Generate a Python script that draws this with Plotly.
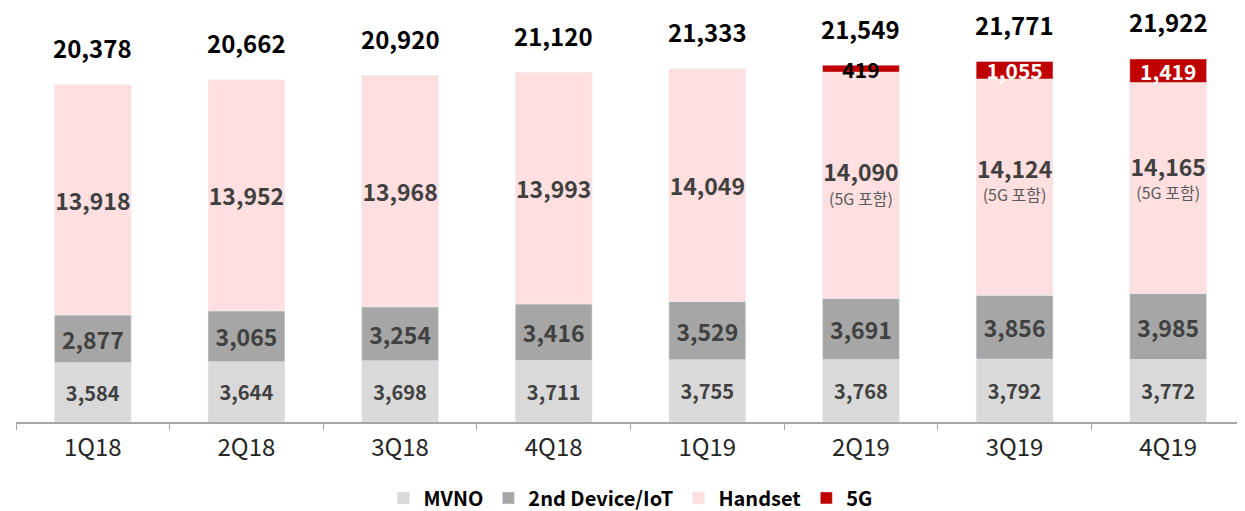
import plotly.graph_objects as go

quarters = ["1Q18", "2Q18", "3Q18", "4Q18", "1Q19", "2Q19", "3Q19", "4Q19"]
mvno = [3584, 3644, 3698, 3711, 3755, 3768, 3792, 3772]
iot = [2877, 3065, 3254, 3416, 3529, 3691, 3856, 3985]
handset = [13918, 13952, 13968, 13993, 14049, 14090, 14124, 14165]
fiveg = [None, None, None, None, None, 419, 1055, 1419]
totals = [20378, 20662, 20920, 21120, 21333, 21549, 21771, 21922]

FONT = "Noto Sans CJK KR"
LABEL = "#404040"

base_iot = mvno
base_hs = [m + i for m, i in zip(mvno, iot)]
base_5g = [(b + h - g) if g else None for b, h, g in zip(base_hs, handset, fiveg)]

hs_text = []
for h, g in zip(handset, fiveg):
    t = f"<span style='font-size:23px'>{h:,}</span>"
    if g:
        t += "<br><span style='font-size:16px;font-weight:normal;color:#595959'>(5G 포함)</span>"
    hs_text.append(t)

common = dict(width=0.5, textposition="inside", insidetextanchor="middle",
              textangle=0, constraintext="none", hoverinfo="skip")

fig = go.Figure()
fig.add_trace(go.Bar(
    name="MVNO", x=quarters, y=mvno, base=[0] * len(mvno),
    marker_color="#d9d9d9",
    text=[f"{v:,}" for v in mvno],
    textfont=dict(family=FONT, size=20, color=LABEL, weight="bold"), **common))
fig.add_trace(go.Bar(
    name="2nd Device/IoT", x=quarters, y=iot, base=base_iot,
    marker_color="#a6a6a6",
    text=[f"{v:,}" for v in iot],
    textfont=dict(family=FONT, size=23, color=LABEL, weight="bold"), **common))
fig.add_trace(go.Bar(
    name="Handset", x=quarters, y=handset, base=base_hs,
    marker_color="#ffdfdf",
    text=hs_text,
    textfont=dict(family=FONT, size=18, color=LABEL, weight="bold"), **common))
fig.add_trace(go.Bar(
    name="5G", x=quarters, y=fiveg, base=base_5g,
    marker_color="#c00000",
    text=[f"{v:,}" if v else "" for v in fiveg],
    textfont=dict(family=FONT, size=21, weight="bold",
                  color=["black" if (v and v < 600) else "white" for v in fiveg]),
    **common))

for q, t in zip(quarters, totals):
    fig.add_annotation(x=q, y=t, text=f"<b>{t:,}</b>", showarrow=False,
                       yshift=37, yanchor="middle",
                       font=dict(family=FONT, size=24, color="black"))

# page has an 8px body margin; figure is sized/offset to compensate
fig.update_layout(
    barmode="overlay",
    width=1237, height=503,
    margin=dict(l=8, r=0, t=2, b=89, autoexpand=False),
    plot_bgcolor="white", paper_bgcolor="white",
    showlegend=True,
    legend=dict(orientation="h", x=0.5, xanchor="center",
                yref="container", y=0.026, yanchor="middle",
                font=dict(family=FONT, size=20, color="black", weight="bold"),
                itemclick=False, traceorder="normal", itemwidth=30),
    xaxis=dict(showline=True, linecolor="#a6a6a6", linewidth=1.5, automargin=False,
               ticks="outside", tickson="boundaries", ticklen=6, tickcolor="#a6a6a6",
               ticklabelstandoff=3,
               tickfont=dict(family=FONT, size=24, color="#262626"),
               showgrid=False),
    yaxis=dict(visible=False, range=[0, 24880], showgrid=False, automargin=False),
)

fig.write_html("out.html")
